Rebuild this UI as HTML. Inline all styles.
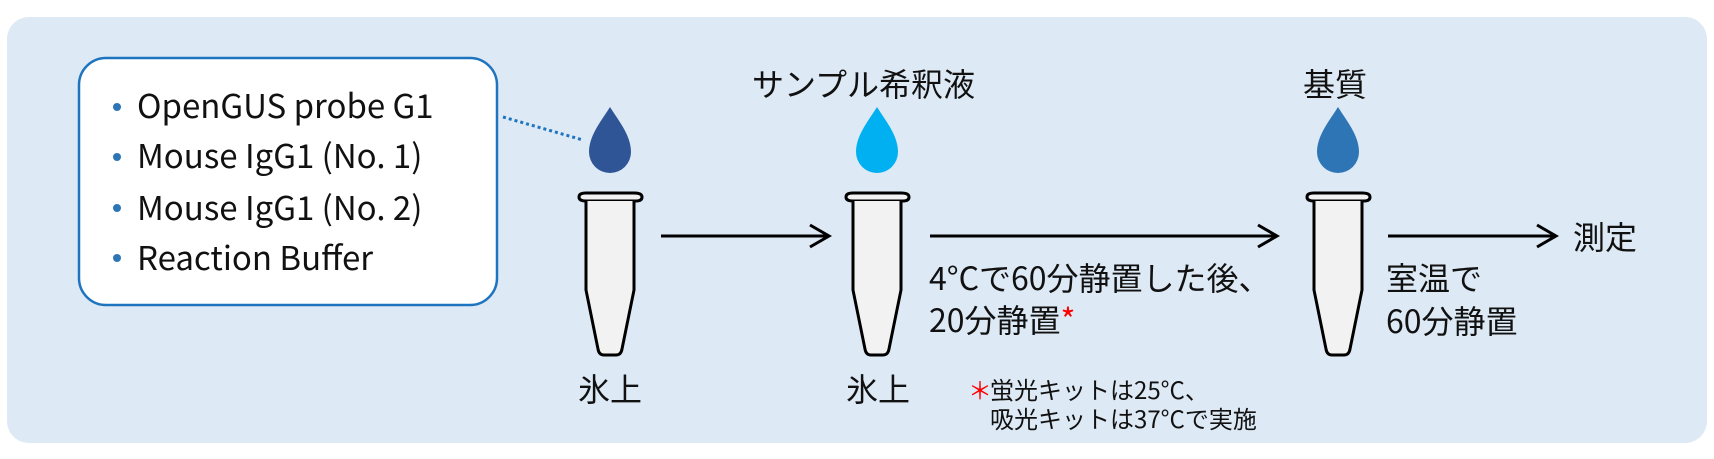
<!DOCTYPE html>
<html><head><meta charset="utf-8"><style>
html,body{margin:0;padding:0;background:#fff;}
svg{display:block;}
text{font-family:"Liberation Sans","Noto Sans CJK JP",sans-serif;fill:#111;}
.j{font-family:"Noto Sans CJK JP","Liberation Sans",sans-serif;}
</style></head><body>
<svg width="1714" height="459" viewBox="0 0 1714 459" xmlns="http://www.w3.org/2000/svg">
<rect x="7" y="17" width="1700" height="426" rx="22" fill="#dde9f5"/>
<rect x="79" y="58" width="418" height="247" rx="27" fill="#fff" stroke="#1f74c0" stroke-width="2.5"/>
<g fill="#2e75b6"><circle cx="117" cy="107" r="4"/><circle cx="117" cy="157" r="4"/><circle cx="117" cy="208" r="4"/><circle cx="117" cy="258" r="4"/></g>
<g font-size="33"><text class="j" x="137" y="118">OpenGUS probe G1</text><text class="j" x="137" y="168">Mouse IgG1 (No. 1)</text><text class="j" x="137" y="220">Mouse IgG1 (No. 2)</text><text class="j" x="137" y="270">Reaction Buffer</text></g>
<line x1="503" y1="117" x2="583" y2="140" stroke="#1f74c0" stroke-width="3" stroke-dasharray="3,3"/>
<g stroke="#000" stroke-width="3" fill="none">
<path d="M661 236H828M810 225L829 236L810 247"/>
<path d="M930 236H1276M1258 225L1277 236L1258 247"/>
<path d="M1388 236H1555M1537 225L1556 236L1537 247"/>
</g>
<g fill="#f2f2f2" stroke="#000" stroke-width="3" stroke-linejoin="round">
<path d="M586 193H634Q642 193 642 197Q642 201 636 201H586Q579 201 579 197Q579 193 586 193Z"/>
<path d="M586 201V290L598 349Q599 355 604 355H616Q621 355 622 349L634 290V201"/>
<path d="M853 193H901Q909 193 909 197Q909 201 903 201H853Q846 201 846 197Q846 193 853 193Z"/>
<path d="M853 201V290L865 349Q866 355 871 355H883Q888 355 889 349L901 290V201"/>
<path d="M1314 193H1362Q1370 193 1370 197Q1370 201 1364 201H1314Q1307 201 1307 197Q1307 193 1314 193Z"/>
<path d="M1314 201V290L1326 349Q1327 355 1332 355H1344Q1349 355 1350 349L1362 290V201"/>
</g>
<path d="M610 107C618 120 631 135 631 152A21 21 0 0 1 589 152C589 135 602 120 610 107Z" fill="#2f5597"/>
<path d="M877 107C885 120 898 135 898 152A21 21 0 0 1 856 152C856 135 869 120 877 107Z" fill="#00b0f0"/>
<path d="M1338 107C1346 120 1359 135 1359 152A21 21 0 0 1 1317 152C1317 135 1330 120 1338 107Z" fill="#2e75b6"/>
<g font-size="32">
<text class="j" x="752" y="96">サンプル希釈液</text>
<text class="j" x="1303" y="96">基質</text>
<text class="j" x="1573" y="249">測定</text>
<text class="j" x="578" y="401">氷上</text>
<text class="j" x="846" y="401">氷上</text>
<text class="j" x="929" y="290">4°Cで60分静置した後、</text>
<text class="j" x="929" y="332">20分静置<tspan style="fill:#ff0000">*</tspan></text>
<text class="j" x="1386" y="290">室温で</text>
<text class="j" x="1386" y="333">60分静置</text>
</g>
<g font-size="24">
<text class="j" x="968" y="399" style="fill:#ff0000">＊</text>
<text class="j" x="990" y="399">蛍光キットは25°C、</text>
<text class="j" x="990" y="428">吸光キットは37°Cで実施</text>
</g>
</svg>
</body></html>
